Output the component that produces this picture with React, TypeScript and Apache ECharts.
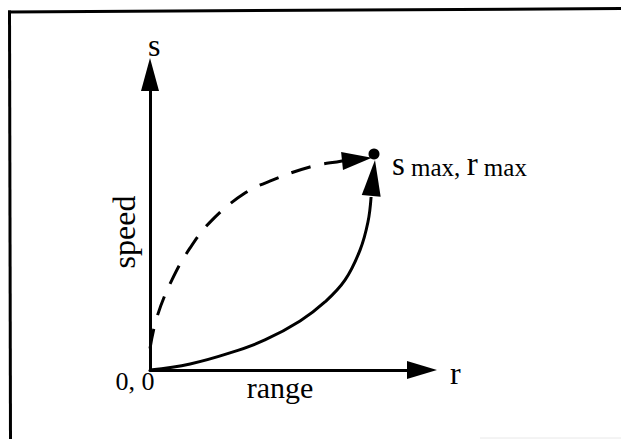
import React, { useEffect, useRef } from "react";
import * as echarts from "echarts";

// Normalised units: range r / r_max, speed s / s_max
const solidCurve: number[][] = [
  [0, 0], [0.179, 0.028], [0.357, 0.079], [0.513, 0.139], [0.67, 0.227],
  [0.781, 0.315], [0.871, 0.417], [0.938, 0.556], [0.973, 0.685], [0.987, 0.801],
];
const dashedCurve: number[][] = [
  [0, 0.1], [0.031, 0.245], [0.098, 0.417], [0.179, 0.565], [0.277, 0.694],
  [0.424, 0.819], [0.549, 0.88], [0.714, 0.94], [0.857, 0.968], [0.93, 0.982],
];
const maxPoint: number[] = [1, 1];
const dashedArrow: number[] = [0.924, 0.975];
const solidArrow: number[] = [0.996, 0.889];
const axisLabels = { x: "r", y: "s", xName: "range", yName: "speed", origin: "0, 0" };

const FONT = "'Liberation Serif', 'Times New Roman', serif";

export default function App() {
  const ref = useRef<HTMLDivElement>(null);
  useEffect(() => {
    if (!ref.current) return;
    const chart = echarts.init(ref.current, undefined, { renderer: "svg" });
    const gridLeft = 150, gridRight = 422, gridTop = 74.5, gridBottom = 370;
    const pxPerX = 224, pxPerY = 216;
    chart.setOption({
      animation: false,
      backgroundColor: "#fff",
      grid: { left: gridLeft, top: gridTop, width: gridRight - gridLeft, height: gridBottom - gridTop },
      xAxis: {
        type: "value", min: 0, max: (gridRight - gridLeft) / pxPerX,
        axisLine: { show: true, symbol: ["none", "triangle"], symbolSize: [18, 30], lineStyle: { color: "#000", width: 3 } },
        axisTick: { show: false }, axisLabel: { show: false }, splitLine: { show: false },
      },
      yAxis: {
        type: "value", min: 0, max: (gridBottom - gridTop) / pxPerY,
        axisLine: { show: true, symbol: ["none", "triangle"], symbolSize: [18, 33], lineStyle: { color: "#000", width: 3 } },
        axisTick: { show: false }, axisLabel: { show: false }, splitLine: { show: false },
      },
      series: [
        {
          type: "line", data: solidCurve, smooth: 0.4, symbol: "none",
          lineStyle: { color: "#000", width: 3 },
        },
        {
          type: "line", data: dashedCurve, smooth: 0.4, symbol: "none",
          lineStyle: { color: "#000", width: 3, type: [20, 14] },
        },
        {
          type: "scatter",
          data: [
            { value: dashedArrow, symbolRotate: -84, symbolSize: [18, 30] },
            { value: solidArrow, symbolRotate: -6, symbolSize: [19, 36] },
          ],
          symbol: "triangle",
          itemStyle: { color: "#000", opacity: 1 },
        },
        {
          type: "scatter", data: [maxPoint], symbol: "circle", symbolSize: 11,
          itemStyle: { color: "#000", opacity: 1 },
        },
      ],
      graphic: [
        { type: "line", shape: { x1: 8, y1: 12, x2: 621, y2: 8.5 }, style: { stroke: "#000", lineWidth: 3 } },
        { type: "line", shape: { x1: 9.5, y1: 10.5, x2: 10.5, y2: 439 }, style: { stroke: "#000", lineWidth: 3 } },
        { type: "line", shape: { x1: 480, y1: 438, x2: 621, y2: 438 }, style: { stroke: "#e8e8e8", lineWidth: 1 } },
        { type: "text", x: 148, y: 45, style: { text: axisLabels.y, font: `32px ${FONT}`, fill: "#000", verticalAlign: "middle", align: "left" } },
        { type: "text", x: 450, y: 373, style: { text: axisLabels.x, font: `32px ${FONT}`, fill: "#000", verticalAlign: "middle", align: "left" } },
        { type: "text", x: 135, y: 381, style: { text: axisLabels.origin, font: `26px ${FONT}`, fill: "#000", verticalAlign: "middle", align: "center" } },
        { type: "text", x: 280, y: 387, style: { text: axisLabels.xName, font: `30px ${FONT}`, fill: "#000", verticalAlign: "middle", align: "center" } },
        { type: "text", x: 124, y: 232, rotation: Math.PI / 2, style: { text: axisLabels.yName, font: `32px ${FONT}`, fill: "#000", verticalAlign: "middle", align: "center" } },
        {
          type: "text", x: 392, y: 162,
          style: {
            text: "{b|s}{m| max, }{b|r}{m| max}",
            fill: "#000", verticalAlign: "middle", align: "left",
            rich: {
              b: { font: `33px ${FONT}`, fill: "#000", lineHeight: 36, verticalAlign: "bottom" },
              m: { font: `25px ${FONT}`, fill: "#000", lineHeight: 36, verticalAlign: "bottom" },
            },
          },
        },
      ],
    });
    return () => chart.dispose();
  }, []);
  return <div ref={ref} style={{ position: "fixed", left: 0, top: 0, width: 621, height: 439 }} />;
}
